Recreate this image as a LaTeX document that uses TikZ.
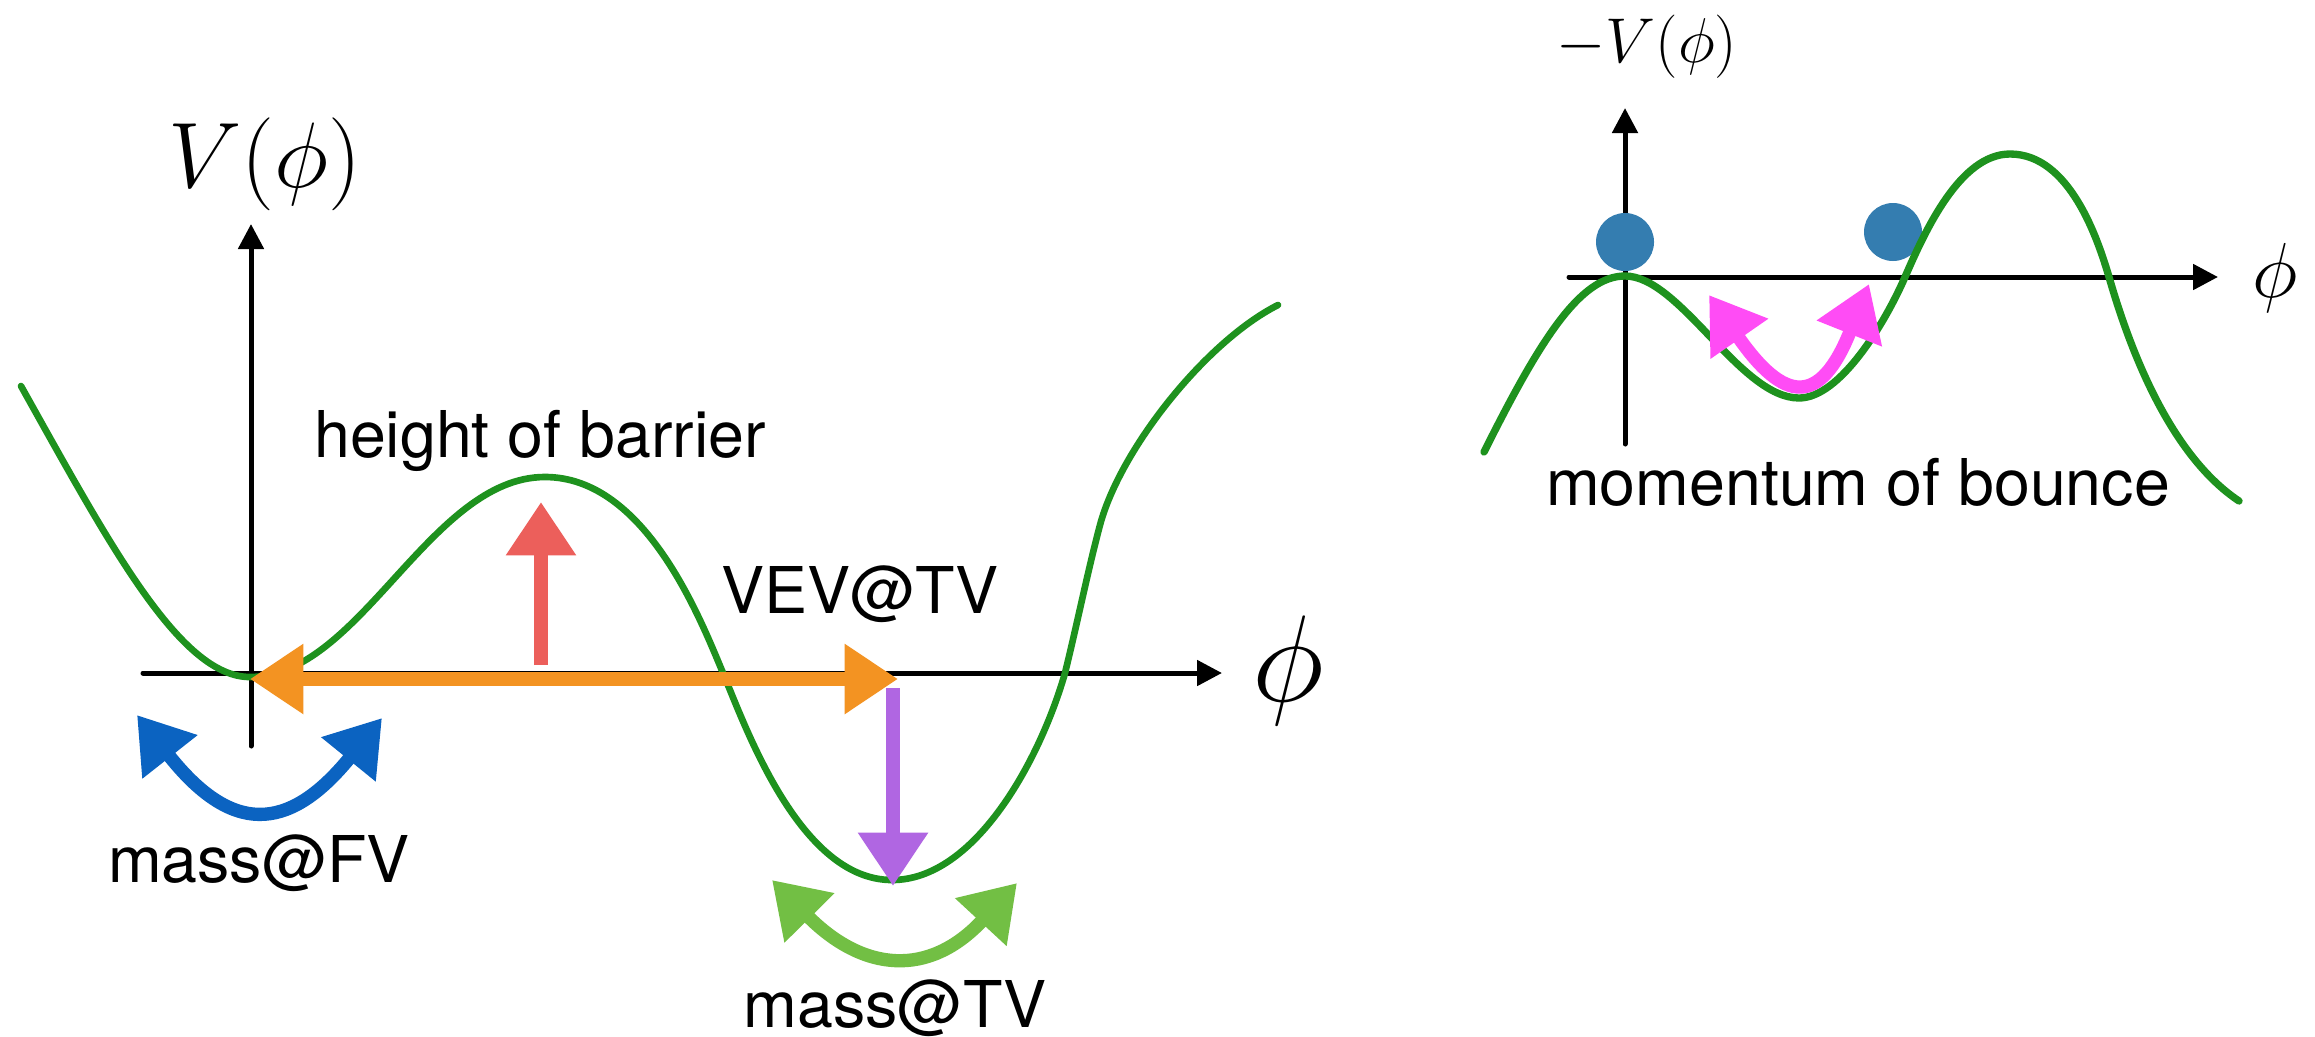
\RequirePackage{fix-cm}
\documentclass[tikz,border=0pt]{standalone}
\usepackage{fontspec}
\setsansfont{TeX Gyre Heros}
\usetikzlibrary{arrows.meta}
\definecolor{vacGreen}{HTML}{1E921E}
\definecolor{fvBlue}{HTML}{0B63C1}
\definecolor{vevOrange}{HTML}{F39322}
\definecolor{barRed}{HTML}{EC5F5B}
\definecolor{tvPurple}{HTML}{B066E2}
\definecolor{tvLime}{HTML}{72BF44}
\definecolor{bounceMagenta}{HTML}{FF4CF5}
\definecolor{ballBlue}{HTML}{347DB0}

\begin{document}
\begin{tikzpicture}[x=0.3pt,y=-0.3pt,line cap=round,line join=round]
\path[fill=white] (0,0) rectangle (2315,1035);
\tikzset{axis/.style={draw=black,line width=1.5pt,-{Triangle[length=7.5pt,width=7.5pt]}},pot/.style={draw=vacGreen,line width=2pt},chalk/.style={line width=4pt,line cap=butt},tipboth/.style={{Triangle[length=16pt,width=20pt]}-{Triangle[length=16pt,width=20pt]}},tipend/.style={-{Triangle[length=16pt,width=20pt]}},lbl/.style={font=\sffamily\fontsize{19.35}{23}\selectfont,anchor=base,inner sep=0pt},mathlbl/.style={anchor=base,inner sep=0pt},ball/.style={circle,fill=ballBlue,minimum size=17.4pt,inner sep=0pt}}
\draw[axis] (251,746) -- (251,224); \draw[axis] (143,673) -- (1222,673);
\draw[pot] (21,386) .. controls (110,545) and (180,677) .. (250,677) .. controls (360,677) and (430,477) .. (545,477) .. controls (645,477) and (700,618) .. (723,673) .. controls (746,728) and (800,880) .. (892,880) .. controls (975,880) and (1040,760) .. (1065,673) .. controls (1078,620) and (1088,570) .. (1100,525) .. controls (1120,450) and (1205,342) .. (1278,305);
\draw[chalk,tipend,draw=barRed] (541,665) -- (541,502);
\draw[chalk,tipboth,draw=vevOrange] (250,679) -- (898,679);
\draw[chalk,tipend,draw=tvPurple] (893,688) -- (893,886);
\draw[chalk,tipboth,draw=fvBlue] (137,715) .. controls (230,833) and (287,835) .. (382,718);
\draw[chalk,tipboth,draw=tvLime] (772,880) .. controls (863,972) and (929,978) .. (1017,883);
\node[mathlbl,font=\fontsize{27.9}{32}\selectfont] (potLbl) at (265,187) {$V(\phi)$};
\node[mathlbl,font=\fontsize{37}{44}\selectfont] (phiLbl) at (1288,701) {$\phi$};
\node[lbl] (barrierLbl) at (540,457) {height of barrier};
\node[lbl] (vevLbl) at (860,613) {VEV@TV};
\node[lbl] (fvLbl) at (259,882) {mass@FV};
\node[lbl] (tvLbl) at (895,1027) {mass@TV};
\draw[axis] (1625,444) -- (1625,108); \draw[axis] (1569,277) -- (2218,277);
\node[ball] (ballTop) at (1625,242) {}; \node[ball] (ballTurn) at (1893,232) {};
\draw[pot,line width=2.2pt] (1484,452) .. controls (1540,340) and (1580,276) .. (1625,276) .. controls (1680,276) and (1740,398) .. (1799,398) .. controls (1840,398) and (1885,323) .. (1905,277) .. controls (1925,231) and (1960,154) .. (2010,154) .. controls (2070,154) and (2098,240) .. (2109,277) .. controls (2130,350) and (2170,455) .. (2239,501);
\draw[chalk,tipboth,draw=bounceMagenta] (1709,295) .. controls (1784,403) and (1820,407) .. (1869,284);
\node[mathlbl,font=\fontsize{19}{23}\selectfont] (negPotLbl) at (1647,62) {$-V(\phi)$};
\node[mathlbl,font=\fontsize{23.4}{28}\selectfont] (phiRLbl) at (2275,297) {$\phi$};
\node[lbl] (bounceLbl) at (1858,505) {momentum of bounce};
\end{tikzpicture}
\end{document}
